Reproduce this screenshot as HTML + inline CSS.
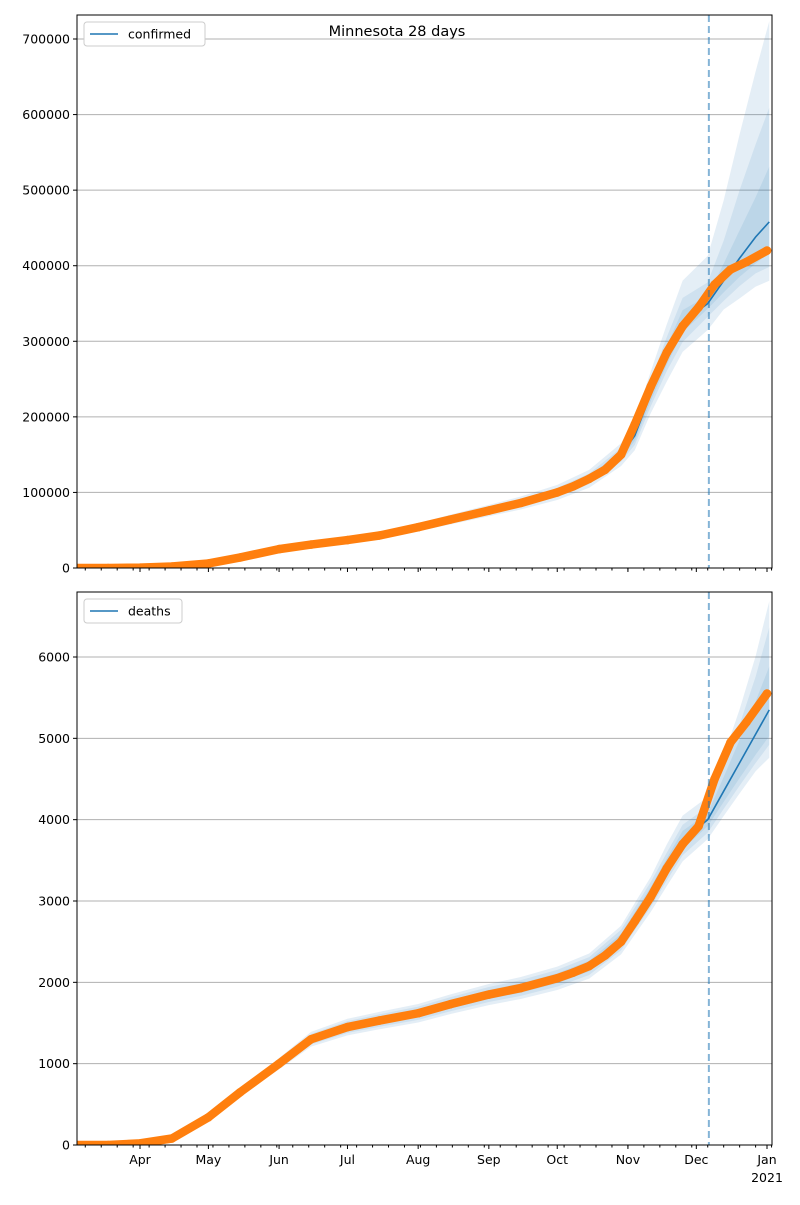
<!DOCTYPE html>
<html><head><meta charset="utf-8"><style>
body{margin:0;background:#fff;}
svg text{font-family:"DejaVu Sans","Liberation Sans",sans-serif;}
</style></head><body>
<svg id="fig" width="800" height="1200" xmlns="http://www.w3.org/2000/svg">
<rect width="800" height="1200" fill="#fff"/>
<text x="397" y="36" font-size="14.5" text-anchor="middle">Minnesota 28 days</text>
<g id="top"></g>
<g id="bot"></g>
</svg>
<script>
// days since 2020-03-01
const obsDays = [3,17,31,45,61,75,92,106,122,136,153,167,184,198,214,221,228,235,242,248,255,262,269,276,283,290,297,306];
const confirmedObs = [0,0,500,2000,6000,14000,25000,31000,37000,43000,54000,64000,76000,86000,100000,108000,118000,130000,150000,190000,240000,285000,320000,345000,375000,395000,405000,420000];
const deathsObs = [0,0,20,80,340,650,1000,1300,1450,1530,1620,1730,1850,1930,2050,2120,2200,2330,2500,2750,3050,3400,3700,3920,4500,4950,5200,5550];
const modelDays = [3,17,31,45,61,75,92,106,122,136,153,167,184,198,214,228,242,248,255,262,269,280,287,294,301,307];
const confirmedModel = [0,0,500,2000,6000,14000,25000,31000,37000,43000,54000,64000,76000,86000,100000,118000,150000,175000,230000,280000,325000,350000,380000,410000,438000,458000];
const deathsModel = [0,0,20,80,340,650,1000,1300,1450,1530,1620,1730,1850,1930,2050,2200,2520,2780,3080,3420,3750,4000,4350,4700,5050,5350];
// band multipliers (lower, upper) for three uncertainty levels
const confBandLo = [[0.97,0.94,0.90],[0.97,0.94,0.90],[0.97,0.94,0.90],[0.97,0.94,0.90],[0.97,0.94,0.90],[0.97,0.94,0.90],[0.97,0.94,0.90],[0.97,0.94,0.90],[0.97,0.94,0.90],[0.97,0.94,0.90],[0.97,0.94,0.90],[0.97,0.94,0.90],[0.97,0.94,0.90],[0.97,0.94,0.90],[0.97,0.94,0.90],[0.97,0.94,0.90],[0.97,0.94,0.90],[0.96,0.93,0.89],[0.96,0.93,0.89],[0.96,0.93,0.88],[0.96,0.92,0.88],[0.98,0.95,0.90],[0.96,0.93,0.90],[0.94,0.91,0.87],[0.92,0.89,0.85],[0.91,0.87,0.83]];
const confBandHi = [[1.03,1.06,1.10],[1.03,1.06,1.10],[1.03,1.06,1.10],[1.03,1.06,1.10],[1.03,1.06,1.10],[1.03,1.06,1.10],[1.03,1.06,1.10],[1.03,1.06,1.10],[1.03,1.06,1.10],[1.03,1.06,1.10],[1.03,1.06,1.10],[1.03,1.06,1.10],[1.03,1.06,1.10],[1.03,1.06,1.10],[1.03,1.06,1.10],[1.03,1.06,1.10],[1.03,1.06,1.10],[1.04,1.07,1.12],[1.04,1.08,1.13],[1.05,1.09,1.15],[1.05,1.10,1.17],[1.03,1.08,1.18],[1.06,1.14,1.28],[1.09,1.22,1.40],[1.12,1.28,1.50],[1.16,1.33,1.58]];
const deathBandLo = [[0.97,0.95,0.93],[0.97,0.95,0.93],[0.97,0.95,0.93],[0.97,0.95,0.93],[0.97,0.95,0.93],[0.97,0.95,0.93],[0.97,0.95,0.93],[0.97,0.95,0.93],[0.97,0.95,0.93],[0.97,0.95,0.93],[0.97,0.95,0.93],[0.97,0.95,0.93],[0.97,0.95,0.93],[0.97,0.95,0.93],[0.97,0.95,0.93],[0.97,0.95,0.93],[0.97,0.95,0.93],[0.97,0.95,0.93],[0.97,0.95,0.93],[0.97,0.95,0.93],[0.97,0.95,0.93],[0.98,0.96,0.94],[0.97,0.95,0.93],[0.96,0.94,0.92],[0.95,0.93,0.91],[0.94,0.92,0.89]];
const deathBandHi = [[1.03,1.05,1.07],[1.03,1.05,1.07],[1.03,1.05,1.07],[1.03,1.05,1.07],[1.03,1.05,1.07],[1.03,1.05,1.07],[1.03,1.05,1.07],[1.03,1.05,1.07],[1.03,1.05,1.07],[1.03,1.05,1.07],[1.03,1.05,1.07],[1.03,1.05,1.07],[1.03,1.05,1.07],[1.03,1.05,1.07],[1.03,1.05,1.07],[1.03,1.05,1.07],[1.03,1.05,1.07],[1.03,1.05,1.07],[1.03,1.05,1.07],[1.03,1.05,1.08],[1.03,1.05,1.08],[1.02,1.04,1.07],[1.04,1.07,1.10],[1.06,1.10,1.14],[1.08,1.14,1.19],[1.10,1.19,1.25]];
const confTicks = [0,100000,200000,300000,400000,500000,600000,700000];
const deathTicks = [0,1000,2000,3000,4000,5000,6000];
const monthLabels = ["Apr","May","Jun","Jul","Aug","Sep","Oct","Nov","Dec","Jan"];
const monthDays = [31,61,92,122,153,184,214,245,275,306];
const forecastDay = 280.5;

const NS="http://www.w3.org/2000/svg";
const X0=77,X1=772;
function xs(d){return 140+(d-31)*627/275;}
function mk(tag,parent,attrs){const e=document.createElementNS(NS,tag);for(const k in attrs)e.setAttribute(k,attrs[k]);parent.appendChild(e);return e;}

function panel(g,top,bottom,ymax,ticks,obs,model,blo,bhi,label,showLabels){
  const ys=v=>bottom-(v/ymax)*(bottom-top);
  const h=bottom-top;
  const clipId='clip-'+label;
  const cp=mk('clipPath',g,{id:clipId});
  mk('rect',cp,{x:X0,y:top,width:X1-X0,height:h});
  for(const t of ticks){
    const y=ys(t);
    if(t>0){const gl=mk('line',g,{x1:X0,x2:X1,y1:y,y2:y,stroke:'#b0b0b0','stroke-width':1});
      
      }
    mk('line',g,{x1:X0-4,x2:X0,y1:y,y2:y,stroke:'#000'});
    const tx=mk('text',g,{x:X0-7,y:y+4.5,'font-size':12.5,'text-anchor':'end'});
    tx.textContent=t;
    
    
  }
  const pg=mk('g',g,{'clip-path':'url(#'+clipId+')'});
  const fills=['rgba(31,119,180,0.10)','rgba(31,119,180,0.10)','rgba(31,119,180,0.12)'];
  for(let k=2;k>=0;k--){
    let up=modelDays.map((d,i)=>xs(d)+','+Math.max(top-5,ys(model[i]*bhi[i][k])));
    let lo=modelDays.map((d,i)=>xs(d)+','+ys(model[i]*blo[i][k])).reverse();
    const p=mk('polygon',pg,{points:up.concat(lo).join(' '),fill:fills[k]});
    
    
  }
  const ml=mk('polyline',pg,{points:modelDays.map((d,i)=>xs(d)+','+ys(model[i])).join(' '),fill:'none',stroke:'#1f77b4','stroke-width':1.6});
  
  
  const ol=mk('polyline',pg,{points:obsDays.map((d,i)=>xs(d)+','+ys(obs[i])).join(' '),fill:'none',stroke:'#ff7f0e','stroke-width':8.5,'stroke-linecap':'round','stroke-linejoin':'round'});
  
  
  obsDays.forEach((d,i)=>{const c=mk('circle',pg,{cx:xs(d),cy:ys(obs[i]),r:4.3,fill:'#ff7f0e'});
    
    });
  const fl=mk('line',g,{x1:xs(forecastDay),x2:xs(forecastDay),y1:top,y2:bottom,stroke:'#1f77b4','stroke-opacity':0.55,'stroke-width':2,'stroke-dasharray':'7,4'});
  
  
  const fr=mk('rect',g,{x:X0,y:top,width:X1-X0,height:h,fill:'none',stroke:'#000','stroke-width':1});
  
  
  for(let d=0;d<=308;d+=7){const x=xs(d);if(x>=X0&&x<=X1)mk('line',g,{x1:x,x2:x,y1:bottom,y2:bottom+2.5,stroke:'#000'});}
  monthDays.forEach((d,i)=>{const x=xs(d);mk('line',g,{x1:x,x2:x,y1:bottom,y2:bottom+4,stroke:'#000'});
    if(showLabels){const t=mk('text',g,{x:x,y:bottom+19,'font-size':12.5,'text-anchor':'middle'});t.textContent=monthLabels[i];
      
      }});
  if(showLabels){const t=mk('text',g,{x:xs(306),y:bottom+37,'font-size':12.5,'text-anchor':'middle'});t.textContent='2021';
    
    }
  const lg=mk('g',g,{});
  
  
  const w=label==='confirmed'?121:98;
  mk('rect',lg,{x:84,y:top+7,width:w,height:24,rx:3,fill:'#fff',stroke:'#ccc'});
  mk('line',lg,{x1:90,x2:118,y1:top+19,y2:top+19,stroke:'#1f77b4','stroke-width':1.6});
  const lt=mk('text',lg,{x:128,y:top+23.5,'font-size':12.5});lt.textContent=label;
}
panel(document.getElementById('top'),15,568,700000*(568-15)/(568-39),confTicks,confirmedObs,confirmedModel,confBandLo,confBandHi,'confirmed',false);
panel(document.getElementById('bot'),592,1145,6000*(1145-592)/(1145-657),deathTicks,deathsObs,deathsModel,deathBandLo,deathBandHi,'deaths',true);
</script>
</body></html>
